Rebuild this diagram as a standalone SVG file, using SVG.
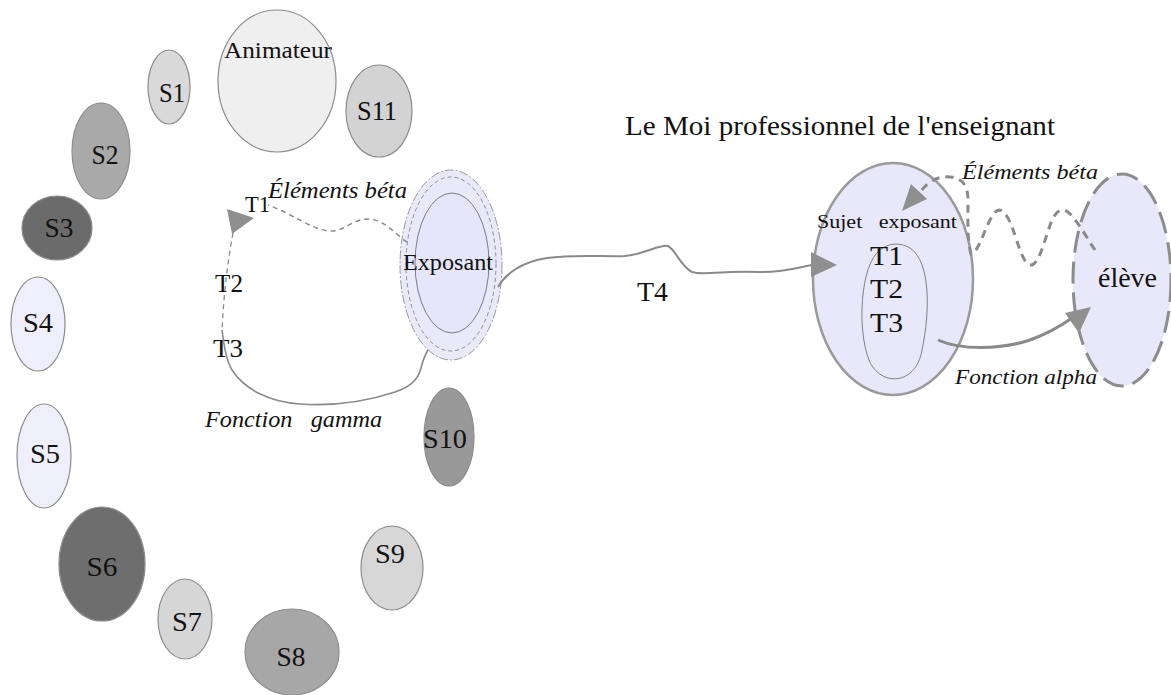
<svg xmlns="http://www.w3.org/2000/svg" width="1171" height="695" viewBox="0 0 1171 695" font-family="'Liberation Serif', 'Times New Roman', serif">
<style>
text{font-family:"Liberation Serif","Times New Roman",serif;fill:#111111}
.s{stroke:#8c8c8c;stroke-width:1.2}
.lbl{font-size:27px}
.it{font-style:italic}
.conn{fill:none;stroke:#8a8a8a}
.ah{fill:#8f8f8f}
</style>
<rect width="1171" height="695" fill="#ffffff"/>

<g id="animateur"><ellipse cx="277" cy="81" rx="59" ry="71" fill="#efefef" class="s"/><text x="278" y="58" font-size="23" text-anchor="middle" textLength="108" lengthAdjust="spacingAndGlyphs">Animateur</text></g>
<g id="s1"><ellipse cx="169" cy="87" rx="21" ry="37" fill="#d9d9d9" class="s"/><text class="lbl" x="172" y="102" text-anchor="middle" textLength="26" lengthAdjust="spacingAndGlyphs">S1</text></g>
<g id="s11"><ellipse cx="379" cy="111" rx="33" ry="46" fill="#d3d3d3" class="s"/><text class="lbl" x="377" y="120" text-anchor="middle" textLength="40" lengthAdjust="spacingAndGlyphs">S11</text></g>
<g id="s2"><ellipse cx="101" cy="151" rx="29" ry="48" fill="#a9a9a9" class="s"/><text class="lbl" x="105" y="164" text-anchor="middle" textLength="27" lengthAdjust="spacingAndGlyphs">S2</text></g>
<g id="s3"><ellipse cx="57" cy="228" rx="35" ry="32" fill="#6b6b6b" class="s"/><text class="lbl" x="59" y="237" text-anchor="middle" textLength="29" lengthAdjust="spacingAndGlyphs">S3</text></g>
<g id="s4"><ellipse cx="38" cy="324" rx="27" ry="47" fill="#eeeefc" class="s"/><text class="lbl" x="38" y="332" text-anchor="middle" textLength="30" lengthAdjust="spacingAndGlyphs">S4</text></g>
<g id="s5"><ellipse cx="44" cy="456" rx="27" ry="52" fill="#efeffc" class="s"/><text class="lbl" x="45" y="463" text-anchor="middle" textLength="30" lengthAdjust="spacingAndGlyphs">S5</text></g>
<g id="s6"><ellipse cx="102" cy="564" rx="43" ry="57" fill="#6e6e6e" class="s"/><text class="lbl" x="102" y="576" text-anchor="middle" textLength="31" lengthAdjust="spacingAndGlyphs">S6</text></g>
<g id="s7"><ellipse cx="185" cy="619" rx="27" ry="40" fill="#d6d6d6" class="s"/><text class="lbl" x="187" y="631" text-anchor="middle" textLength="30" lengthAdjust="spacingAndGlyphs">S7</text></g>
<g id="s8"><ellipse cx="292" cy="652" rx="47" ry="43" fill="#a7a7a7" class="s"/><text class="lbl" x="291" y="666" text-anchor="middle" textLength="29" lengthAdjust="spacingAndGlyphs">S8</text></g>
<g id="s9"><ellipse cx="392" cy="568" rx="31" ry="42" fill="#d7d7d7" class="s"/><text class="lbl" x="390" y="563" text-anchor="middle" textLength="30" lengthAdjust="spacingAndGlyphs">S9</text></g>
<g id="s10"><ellipse cx="449" cy="437" rx="25" ry="49" fill="#999999" class="s"/><text class="lbl" x="445" y="448" text-anchor="middle" textLength="44" lengthAdjust="spacingAndGlyphs">S10</text></g>

<g id="exposant">
<ellipse cx="451" cy="265" rx="51" ry="95" fill="#e9e9fa" stroke="#9a9a9a" stroke-width="1" stroke-dasharray="9,2,2,2"/>
<ellipse cx="451" cy="264" rx="45" ry="87" fill="none" stroke="#8a8a9a" stroke-width="1" stroke-dasharray="4,3"/>
<ellipse cx="452" cy="263" rx="37" ry="70" fill="#e6e6fa" stroke="#7a7a8a" stroke-width="1"/>
<text x="448" y="270" font-size="23" text-anchor="middle" textLength="90" lengthAdjust="spacingAndGlyphs">Exposant</text>
</g>

<g id="labels-left">
<text x="245" y="212" font-size="24" textLength="25" lengthAdjust="spacingAndGlyphs">T1</text>
<text class="it" x="268" y="198" font-size="23" textLength="139" lengthAdjust="spacingAndGlyphs">Éléments béta</text>
<text x="215" y="292" font-size="26" textLength="28" lengthAdjust="spacingAndGlyphs">T2</text>
<text x="213" y="357" font-size="26" textLength="30" lengthAdjust="spacingAndGlyphs">T3</text>
<text class="it" x="205" y="427" font-size="23" xml:space="preserve" textLength="177" lengthAdjust="spacingAndGlyphs">Fonction   gamma</text>
<text x="637" y="301" font-size="27" textLength="31" lengthAdjust="spacingAndGlyphs">T4</text>
</g>

<g id="titre"><text x="625" y="135" font-size="28" textLength="430" lengthAdjust="spacingAndGlyphs">Le Moi professionnel de l'enseignant</text></g>

<g id="sujet">
<ellipse cx="893" cy="279" rx="80" ry="116" fill="#e8e8fa" stroke="#9a9a9a" stroke-width="2.5"/>
<path d="M880,250 C860,265 857,330 869,360 C880,387 916,386 922,350 C930,312 931,262 910,248 C900,242 888,243 880,250 Z" fill="none" stroke="#7f7f7f" stroke-width="1"/>
<text x="817" y="228" font-size="19" xml:space="preserve" textLength="140" lengthAdjust="spacingAndGlyphs">Sujet   exposant</text>
<text x="870" y="265" font-size="27" textLength="33" lengthAdjust="spacingAndGlyphs">T1</text>
<text x="870" y="298" font-size="27" textLength="33" lengthAdjust="spacingAndGlyphs">T2</text>
<text x="870" y="332" font-size="27" textLength="33" lengthAdjust="spacingAndGlyphs">T3</text>
</g>

<g id="eleve">
<ellipse cx="1122" cy="280" rx="49" ry="106" fill="#e8e8fa" stroke="#8c8c8c" stroke-width="3" stroke-dasharray="22,9"/>
<text x="1098" y="287" font-size="27" textLength="59" lengthAdjust="spacingAndGlyphs">élève</text>
</g>

<g id="labels-right">
<text class="it" x="962" y="179" font-size="22" textLength="136" lengthAdjust="spacingAndGlyphs">Éléments béta</text>
<text class="it" x="955" y="384" font-size="22" textLength="142" lengthAdjust="spacingAndGlyphs">Fonction alpha</text>
</g>

<g id="connectors">
<path class="conn" stroke-width="1.5" stroke-dasharray="5,4" d="M407,242 C397,236 385,220 370,219 C352,218 345,232 330,231 C312,230 295,215 268,205"/>
<path class="conn" stroke-width="1.3" stroke-dasharray="5,4" d="M233,233 C228,260 224,290 222,330"/>
<polygon class="ah" points="227,209 254,218 232,234"/>
<path class="conn" stroke-width="1.6" d="M222,330 C224,345 226,360 232,370 C245,390 270,402 300,404 C330,406 365,402 395,392 C410,387 418,380 421,368 C423,360 425,355 428,350"/>
<path class="conn" stroke-width="2" d="M498,287 C505,275 520,262 547,258 C575,254 605,257 625,256 C645,254 660,244 668,246 C676,250 680,266 692,272 C705,276 720,270 760,272 C785,272 800,267 812,265"/>
<polygon class="ah" points="811,252 837,265 811,277"/>
<path class="conn" stroke-width="3" stroke-dasharray="8,6" d="M1095,250 C1088,240 1082,228 1075,220 C1065,205 1058,208 1052,220 C1045,238 1040,262 1032,265 C1022,266 1018,240 1010,222 C1002,205 996,208 990,220 C982,236 978,252 971,254 C967,240 968,220 968,200 C968,185 962,178 950,177 C938,176 930,180 920,192"/>
<polygon class="ah" points="902,211 911,184 927,199"/>
<path class="conn" stroke-width="3" d="M938,340 C960,350 1000,350 1030,340 C1050,333 1062,325 1072,318"/>
<polygon class="ah" points="1091,307 1079,333 1065,313"/>
</g>
</svg>
